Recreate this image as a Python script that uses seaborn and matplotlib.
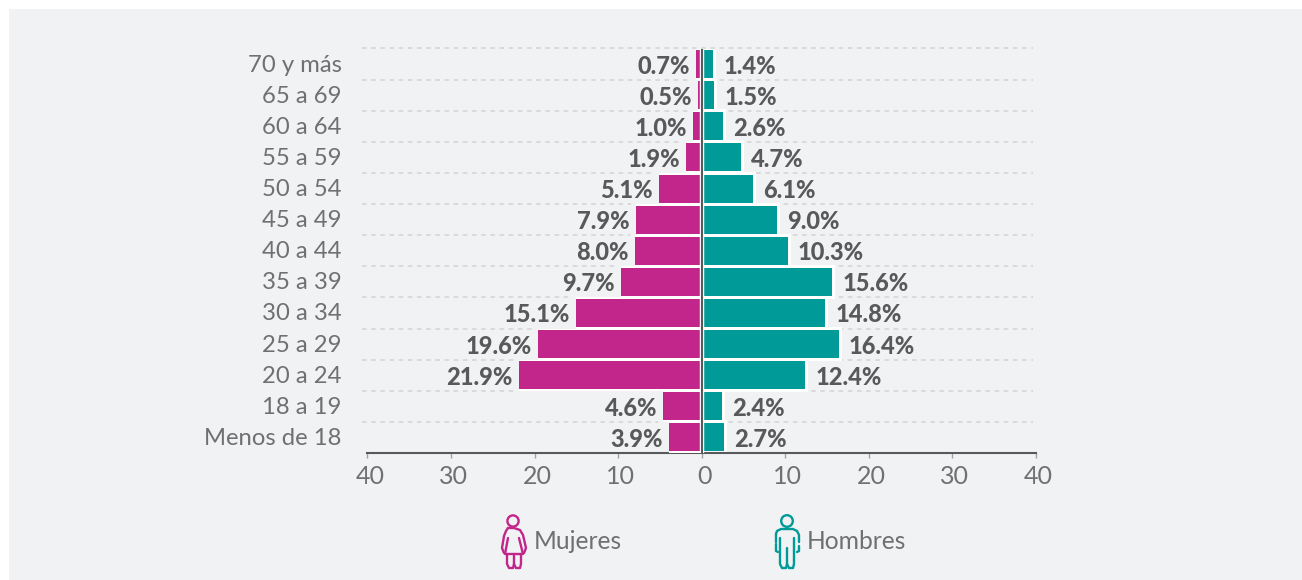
import matplotlib

matplotlib.use("Agg")
import matplotlib.pyplot as plt
import numpy as np
import pandas as pd
import seaborn as sns
from matplotlib.patches import Circle, Rectangle
from matplotlib.ticker import FuncFormatter
from matplotlib.transforms import ScaledTranslation

# Datos
GRUPOS = ["70 y más", "65 a 69", "60 a 64", "55 a 59", "50 a 54", "45 a 49", "40 a 44",
          "35 a 39", "30 a 34", "25 a 29", "20 a 24", "18 a 19", "Menos de 18"]
MUJERES = [0.7, 0.5, 1.0, 1.9, 5.1, 7.9, 8.0, 9.7, 15.1, 19.6, 21.9, 4.6, 3.9]
HOMBRES = [1.4, 1.5, 2.6, 4.7, 6.1, 9.0, 10.3, 15.6, 14.8, 16.4, 12.4, 2.4, 2.7]
TICKS = [-40, -30, -20, -10, 0, 10, 20, 30, 40]

W, H = 1302, 580
BG = "#f1f2f4"
MAGENTA = "#c2268a"
TEAL = "#009a98"
GRIS_TEXTO = "#6f7072"
GRIS_VALOR = "#58595b"
GRIS_EJE = "#58595b"

sns.set_theme(style="white")
plt.rcParams["font.family"] = ["Lato", "DejaVu Sans"]


def px_axes(fig, left, top, right, bottom):
    return fig.add_axes([left / W, 1 - bottom / H, (right - left) / W, (bottom - top) / H])


def trazo(ax, puntos, color):
    xs, ys = zip(*puntos)
    ax.plot(xs, ys, color=color, lw=1.7, solid_capstyle="round", solid_joinstyle="round")


def icono_mujer(ax, dx, dy, color):
    # coordenadas en px relativas al recorte del icono
    ax.add_patch(Circle((dx + 33, dy + 27), 5.6, fill=False, ec=color, lw=1.7))
    partes = [
        [(28, 34), (34, 34), (40, 36), (43, 41), (46, 54), (44, 59)],
        [(28, 34), (26, 37), (24, 42), (22, 54), (24, 59)],
        [(28, 44), (25, 60), (43, 60), (39, 44)],
        [(27, 60), (27, 70), (29, 74), (33, 74), (34, 70), (34, 60)],
        [(34, 70), (36, 74), (40, 74), (41, 70), (41, 60)],
    ]
    for p in partes:
        trazo(ax, [(dx + x, dy + y) for x, y in p], color)


def icono_hombre(ax, dx, dy, color):
    ax.add_patch(Circle((dx + 307, dy + 27), 5.8, fill=False, ec=color, lw=1.7))
    partes = [
        [(296, 40), (297, 37), (301, 35), (313, 35), (317, 37), (319, 41), (319, 48)],
        [(296, 40), (296, 48)],
        [(296, 50), (296, 57), (298, 58)],
        [(319, 52), (319, 57), (317, 58)],
        [(300, 44), (300, 70), (302, 74), (306, 74), (307, 70), (307, 54)],
        [(307, 70), (309, 74), (313, 74), (314, 70), (314, 44)],
    ]
    for p in partes:
        trazo(ax, [(dx + x, dy + y) for x, y in p], color)


def main():
    df = pd.DataFrame({"grupo": GRUPOS, "mujeres": MUJERES, "hombres": HOMBRES})
    df["mujeres_neg"] = -df["mujeres"]

    fig = plt.figure(figsize=(W / 100, H / 100), dpi=100, facecolor="white")

    # capa de fondo e iconos en coordenadas de pixel
    capa = fig.add_axes([0, 0, 1, 1], zorder=0)
    capa.set_xlim(0, W)
    capa.set_ylim(H, 0)
    capa.axis("off")
    capa.add_patch(Rectangle((9, 9), W - 9, H - 9, fc=BG, ec="none"))

    ax = px_axes(fig, 367.5, 48.5, 1036, 453)
    ax.set_zorder(1)
    ax.patch.set_alpha(0)

    # halos: primero el color de fondo (mujeres), luego blanco, y las barras encima
    sns.barplot(data=df, y="grupo", x="mujeres_neg", color=BG, width=0.9, saturation=1,
                edgecolor=BG, linewidth=7, ax=ax, zorder=2)
    sns.barplot(data=df, y="grupo", x="hombres", color="white", width=0.9, saturation=1,
                edgecolor="white", linewidth=4.3, ax=ax, zorder=2.5)
    sns.barplot(data=df, y="grupo", x="mujeres_neg", color="white", width=1.0, saturation=1,
                linewidth=0, ax=ax, zorder=2.6)
    sns.barplot(data=df, y="grupo", x="mujeres_neg", color=MAGENTA, width=0.9, saturation=1,
                linewidth=0, ax=ax, zorder=3)
    sns.barplot(data=df, y="grupo", x="hombres", color=TEAL, width=0.9, saturation=1,
                linewidth=0, ax=ax, zorder=3)

    ax.set_xlim(-40, 40)
    ax.set_ylim(12.5, -0.5)
    ax.set_xlabel("")
    ax.set_ylabel("")

    # lineas punteadas entre filas
    for y in np.arange(-0.5, 12, 1):
        ax.plot([-40.6, 39.6], [y, y], color="#d2d3d5", lw=1.1, dashes=(3, 3), zorder=1, clip_on=False)

    ax.axvline(0, color="white", lw=3.2, zorder=3.5)
    ax.axvline(0, color=GRIS_EJE, lw=1.5, zorder=4)

    for i, (m, h) in enumerate(zip(MUJERES, HOMBRES)):
        ax.annotate(f"{m:.1f}%", (-m, i), xytext=(-6, -2), textcoords="offset pixels",
                    ha="right", va="center", fontsize=17, fontweight=900, color=GRIS_VALOR, zorder=5)
        ax.annotate(f"{h:.1f}%", (h, i), xytext=(10, -2), textcoords="offset pixels",
                    ha="left", va="center", fontsize=17, fontweight=900, color=GRIS_VALOR, zorder=5)

    for s in ["top", "left", "right"]:
        ax.spines[s].set_visible(False)
    ax.spines["bottom"].set_color(GRIS_EJE)
    ax.spines["bottom"].set_linewidth(1.5)

    ax.set_xticks(TICKS)
    ax.xaxis.set_major_formatter(FuncFormatter(lambda v, _: f"{abs(int(v))}"))
    ax.tick_params(axis="x", length=3.8, width=1, color="#a0a1a3", labelsize=18,
                   labelcolor=GRIS_TEXTO, pad=5, bottom=True)
    ax.tick_params(axis="y", length=0, labelsize=17.2, labelcolor=GRIS_TEXTO, pad=18.5)

    # pequeños ajustes de posicion de las etiquetas, en pixeles
    for lab in ax.get_xticklabels():
        lab.set_transform(lab.get_transform() + ScaledTranslation(2.5 / 100, 0, fig.dpi_scale_trans))
    for lab in ax.get_yticklabels():
        lab.set_transform(lab.get_transform() + ScaledTranslation(0, 1 / 100, fig.dpi_scale_trans))

    # leyenda
    icono_mujer(capa, 480, 494, MAGENTA)
    icono_hombre(capa, 480, 494, TEAL)
    capa.text(534, 541.5, "Mujeres", fontsize=17.7, color=GRIS_TEXTO, va="center", ha="left")
    capa.text(807, 541.5, "Hombres", fontsize=17.7, color=GRIS_TEXTO, va="center", ha="left")

    fig.savefig("out.png", dpi=100, facecolor="white")
    plt.close(fig)


if __name__ == "__main__":
    main()
